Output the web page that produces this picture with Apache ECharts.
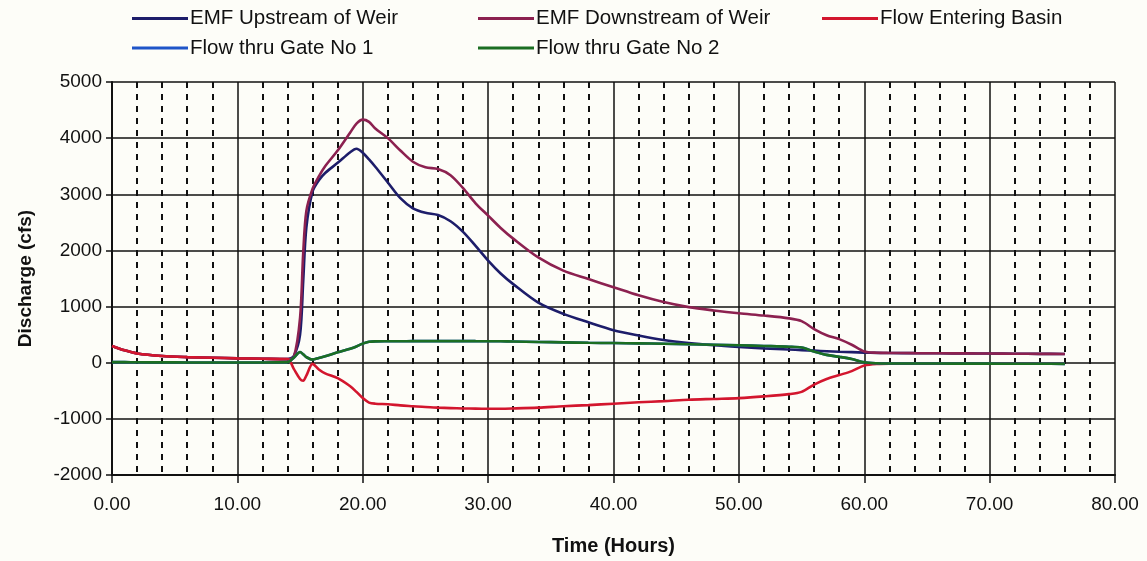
<!DOCTYPE html>
<html>
<head>
<meta charset="utf-8">
<script src="https://cdn.jsdelivr.net/npm/echarts@6/dist/echarts.min.js"></script>
<style>
  html, body { margin: 0; padding: 0; background: #fdfdf8; }
  #chart { width: 1147px; height: 561px; }
</style>
</head>
<body>
<div id="chart"></div>
<script>
// Sample times (hours) shared by every series
const hours = [0, 1, 2, 4, 6, 8, 10, 12, 14,
  14.5, 15, 15.25, 15.5, 16, 16.5, 17,
  18, 19, 19.5, 20, 20.5, 21,
  22, 23, 24, 25, 26, 27, 28, 29, 30, 31, 32,
  34, 36, 38, 40, 42, 44, 46, 48, 50, 52, 54,
  55, 56, 57, 58, 59, 60, 61, 62,
  64, 66, 68, 70, 72, 74, 76];

// Discharge (cfs)
const emfUpstream = [298, 220, 165, 120, 100, 88, 78, 70, 64,
  120, 500, 1450, 2400, 3050, 3250, 3380,
  3560, 3750, 3810, 3740, 3620, 3490,
  3210, 2930, 2750, 2670, 2630, 2520, 2330, 2080, 1820, 1590, 1400,
  1070, 870, 720, 580, 485, 405, 350, 310, 280, 255, 235,
  225, 215, 205, 195, 188, 180, 176, 173,
  170, 168, 166, 163, 161, 158, 156];

const emfDownstream = [298, 220, 165, 120, 100, 88, 78, 70, 64,
  100, 800, 1950, 2700, 3100, 3320, 3500,
  3780, 4100, 4260, 4330, 4290, 4170,
  4000, 3780, 3580, 3480, 3450, 3340, 3110, 2840, 2620, 2400, 2210,
  1875, 1640, 1490, 1345, 1200, 1080, 990, 930, 880, 840, 790,
  740, 600, 490, 420, 320, 200, 178, 174,
  170, 168, 166, 163, 161, 158, 156];

const flowEnteringBasin = [298, 220, 165, 120, 100, 88, 78, 70, 64,
  -110, -290, -320, -230, -20, -120, -190,
  -275, -420, -520, -630, -710, -730,
  -740, -760, -775, -790, -800, -808, -815, -818, -820, -820, -815,
  -800, -775, -755, -730, -705, -685, -660, -645, -630, -600, -560,
  -520, -390, -290, -220, -150, -50, -22, -18,
  -18, -18, -18, -18, -18, -18, -18];

const gate1Flow = [10, 10, 8, 6, 5, 5, 5, 5, 10,
  90, 190, 150, 100, 55, 85, 115,
  185, 250, 290, 340, 372, 380,
  382, 383, 384, 385, 385, 385, 385, 384, 383, 381, 378,
  370, 362, 355, 350, 345, 338, 330, 320, 310, 298, 285,
  270, 200, 140, 105, 65, 8, -10, -14,
  -15, -15, -16, -17, -18, -19, -20];

const gate2Flow = [10, 10, 8, 6, 5, 5, 5, 5, 10,
  90, 190, 150, 100, 55, 85, 115,
  185, 250, 290, 340, 372, 380,
  382, 383, 384, 385, 385, 385, 385, 384, 383, 381, 378,
  370, 362, 355, 350, 345, 338, 330, 320, 310, 298, 285,
  270, 200, 140, 105, 65, 8, -10, -14,
  -15, -15, -16, -17, -18, -19, -20];

const seriesNames = ['EMF Upstream of Weir', 'EMF Downstream of Weir', 'Flow Entering Basin',
  'Flow thru Gate No 1', 'Flow thru Gate No 2'];
const seriesValues = [emfUpstream, emfDownstream, flowEnteringBasin, gate1Flow, gate2Flow];
const seriesColors = ['#1d1d6a', '#8c2150', '#d3162e', '#1f55c8', '#1b6e22'];

const FONT = '"Liberation Sans", Arial, Helvetica, sans-serif';

const chart = echarts.init(document.getElementById('chart'), null, { renderer: 'canvas' });

const legendCommon = {
  orient: 'vertical',
  icon: 'rect',
  itemWidth: 56,
  itemHeight: 3,
  itemGap: 8.5,
  padding: 0,
  selectedMode: false,
  textStyle: { fontFamily: FONT, fontSize: 20.5, color: '#111', padding: [0, 0, 0, -3] }
};

chart.setOption({
  backgroundColor: '#fdfdf8',
  animation: false,
  legend: [
    Object.assign({ left: 132, top: 8, data: [seriesNames[0], seriesNames[3]] }, legendCommon),
    Object.assign({ left: 478, top: 8, data: [seriesNames[1], seriesNames[4]] }, legendCommon),
    Object.assign({ left: 822, top: 8, data: [seriesNames[2]] }, legendCommon)
  ],
  grid: { left: 112, right: 32, top: 82, bottom: 86, containLabel: false },
  xAxis: {
    type: 'value',
    min: 0, max: 80, interval: 10,
    name: 'Time (Hours)',
    nameLocation: 'middle',
    nameGap: 61,
    nameTextStyle: { fontFamily: FONT, fontSize: 20, fontWeight: 'bold', color: '#111' },
    axisLine: { show: true, onZero: false, lineStyle: { color: '#111', width: 2 } },
    axisTick: { show: true, length: 8, lineStyle: { color: '#111', width: 1.5 } },
    axisLabel: { margin: 20, fontFamily: FONT, fontSize: 19, color: '#111',
      formatter: v => v.toFixed(2) },
    splitLine: { show: true, lineStyle: { color: '#111', width: 1.5 } },
    minorTick: { show: false, splitNumber: 5 },
    minorSplitLine: { show: true, lineStyle: { color: '#111', width: 2, type: [6, 6] } }
  },
  yAxis: {
    type: 'value',
    min: -2000, max: 5000, interval: 1000,
    name: 'Discharge (cfs)',
    nameLocation: 'middle',
    nameRotate: 90,
    nameGap: 77,
    nameTextStyle: { fontFamily: FONT, fontSize: 19, fontWeight: 'bold', color: '#111' },
    axisLine: { show: true, lineStyle: { color: '#111', width: 2 } },
    axisTick: { show: true, length: 6, lineStyle: { color: '#111', width: 1.5 } },
    axisLabel: { margin: 10, fontFamily: FONT, fontSize: 19, color: '#111',
      formatter: v => String(v) },
    splitLine: { show: true, lineStyle: { color: '#111', width: 1.5 } }
  },
  series: seriesNames.map((name, i) => ({
    name,
    type: 'line',
    data: hours.map((h, k) => [h, seriesValues[i][k]]),
    showSymbol: false,
    smooth: 0.3,
    color: seriesColors[i],
    lineStyle: { color: seriesColors[i], width: 2.6 },
    z: 3 + i
  }))
});
</script>
</body>
</html>
